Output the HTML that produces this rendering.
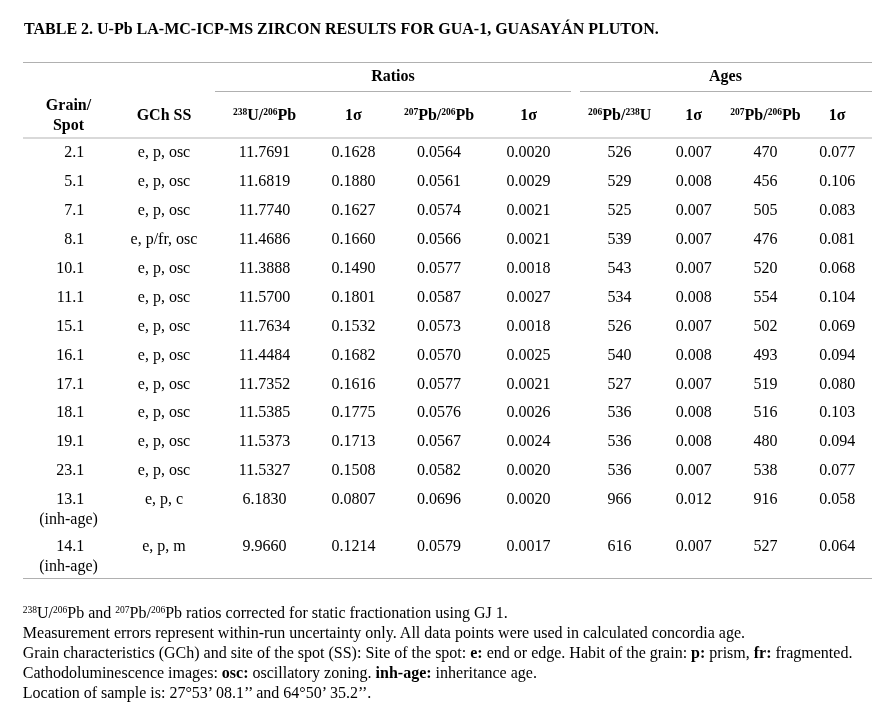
<!DOCTYPE html>
<html><head><meta charset="utf-8"><style>
html,body{margin:0;padding:0;background:#fff;}
body{filter:grayscale(1);}
body{width:895px;height:722px;position:relative;overflow:hidden;font-family:"Liberation Serif",serif;font-size:16px;color:#000;}
div{position:absolute;white-space:nowrap;line-height:20px;}
i{position:absolute;display:block;}
sup{font-size:9.5px;vertical-align:0;position:relative;top:-5px;line-height:0;}
</style></head><body>
<div style="left:24.00px;top:19.00px;width:300px;text-align:left;font-weight:bold;">TABLE 2. U-Pb LA-MC-ICP-MS ZIRCON RESULTS FOR GUA-1, GUASAYÁN PLUTON.</div>
<i style="left:23px;top:62px;width:849px;height:1px;background:#b0b0b0"></i>
<div style="left:243.00px;top:65.90px;width:300px;text-align:center;font-weight:bold;">Ratios</div>
<div style="left:575.50px;top:65.90px;width:300px;text-align:center;font-weight:bold;">Ages</div>
<i style="left:215px;top:91px;width:356px;height:1px;background:#b0b0b0"></i>
<i style="left:580px;top:91px;width:292px;height:1px;background:#b0b0b0"></i>
<div style="left:-81.50px;top:94.80px;width:300px;text-align:center;font-weight:bold;">Grain/</div>
<div style="left:-81.50px;top:114.70px;width:300px;text-align:center;font-weight:bold;">Spot</div>
<div style="left:14.00px;top:105.30px;width:300px;text-align:center;font-weight:bold;">GCh SS</div>
<div style="left:114.50px;top:105.30px;width:300px;text-align:center;font-weight:bold;"><sup>238</sup>U/<sup>206</sup>Pb</div>
<div style="left:203.40px;top:105.30px;width:300px;text-align:center;font-weight:bold;">1σ</div>
<div style="left:289.10px;top:105.30px;width:300px;text-align:center;font-weight:bold;"><sup>207</sup>Pb/<sup>206</sup>Pb</div>
<div style="left:378.60px;top:105.30px;width:300px;text-align:center;font-weight:bold;">1σ</div>
<div style="left:469.60px;top:105.30px;width:300px;text-align:center;font-weight:bold;"><sup>206</sup>Pb/<sup>238</sup>U</div>
<div style="left:543.70px;top:105.30px;width:300px;text-align:center;font-weight:bold;">1σ</div>
<div style="left:615.50px;top:105.30px;width:300px;text-align:center;font-weight:bold;"><sup>207</sup>Pb/<sup>206</sup>Pb</div>
<div style="left:687.20px;top:105.30px;width:300px;text-align:center;font-weight:bold;">1σ</div>
<i style="left:23px;top:137px;width:849px;height:2px;background:#d9d9d9"></i>
<div style="left:-215.80px;top:142.20px;width:300px;text-align:right;font-weight:normal;">2.1</div>
<div style="left:14.00px;top:142.20px;width:300px;text-align:center;font-weight:normal;">e, p, osc</div>
<div style="left:114.50px;top:142.20px;width:300px;text-align:center;font-weight:normal;">11.7691</div>
<div style="left:203.40px;top:142.20px;width:300px;text-align:center;font-weight:normal;">0.1628</div>
<div style="left:289.10px;top:142.20px;width:300px;text-align:center;font-weight:normal;">0.0564</div>
<div style="left:378.60px;top:142.20px;width:300px;text-align:center;font-weight:normal;">0.0020</div>
<div style="left:469.60px;top:142.20px;width:300px;text-align:center;font-weight:normal;">526</div>
<div style="left:543.70px;top:142.20px;width:300px;text-align:center;font-weight:normal;">0.007</div>
<div style="left:615.50px;top:142.20px;width:300px;text-align:center;font-weight:normal;">470</div>
<div style="left:687.20px;top:142.20px;width:300px;text-align:center;font-weight:normal;">0.077</div>
<div style="left:-215.80px;top:171.16px;width:300px;text-align:right;font-weight:normal;">5.1</div>
<div style="left:14.00px;top:171.16px;width:300px;text-align:center;font-weight:normal;">e, p, osc</div>
<div style="left:114.50px;top:171.16px;width:300px;text-align:center;font-weight:normal;">11.6819</div>
<div style="left:203.40px;top:171.16px;width:300px;text-align:center;font-weight:normal;">0.1880</div>
<div style="left:289.10px;top:171.16px;width:300px;text-align:center;font-weight:normal;">0.0561</div>
<div style="left:378.60px;top:171.16px;width:300px;text-align:center;font-weight:normal;">0.0029</div>
<div style="left:469.60px;top:171.16px;width:300px;text-align:center;font-weight:normal;">529</div>
<div style="left:543.70px;top:171.16px;width:300px;text-align:center;font-weight:normal;">0.008</div>
<div style="left:615.50px;top:171.16px;width:300px;text-align:center;font-weight:normal;">456</div>
<div style="left:687.20px;top:171.16px;width:300px;text-align:center;font-weight:normal;">0.106</div>
<div style="left:-215.80px;top:200.12px;width:300px;text-align:right;font-weight:normal;">7.1</div>
<div style="left:14.00px;top:200.12px;width:300px;text-align:center;font-weight:normal;">e, p, osc</div>
<div style="left:114.50px;top:200.12px;width:300px;text-align:center;font-weight:normal;">11.7740</div>
<div style="left:203.40px;top:200.12px;width:300px;text-align:center;font-weight:normal;">0.1627</div>
<div style="left:289.10px;top:200.12px;width:300px;text-align:center;font-weight:normal;">0.0574</div>
<div style="left:378.60px;top:200.12px;width:300px;text-align:center;font-weight:normal;">0.0021</div>
<div style="left:469.60px;top:200.12px;width:300px;text-align:center;font-weight:normal;">525</div>
<div style="left:543.70px;top:200.12px;width:300px;text-align:center;font-weight:normal;">0.007</div>
<div style="left:615.50px;top:200.12px;width:300px;text-align:center;font-weight:normal;">505</div>
<div style="left:687.20px;top:200.12px;width:300px;text-align:center;font-weight:normal;">0.083</div>
<div style="left:-215.80px;top:229.08px;width:300px;text-align:right;font-weight:normal;">8.1</div>
<div style="left:14.00px;top:229.08px;width:300px;text-align:center;font-weight:normal;">e, p/fr, osc</div>
<div style="left:114.50px;top:229.08px;width:300px;text-align:center;font-weight:normal;">11.4686</div>
<div style="left:203.40px;top:229.08px;width:300px;text-align:center;font-weight:normal;">0.1660</div>
<div style="left:289.10px;top:229.08px;width:300px;text-align:center;font-weight:normal;">0.0566</div>
<div style="left:378.60px;top:229.08px;width:300px;text-align:center;font-weight:normal;">0.0021</div>
<div style="left:469.60px;top:229.08px;width:300px;text-align:center;font-weight:normal;">539</div>
<div style="left:543.70px;top:229.08px;width:300px;text-align:center;font-weight:normal;">0.007</div>
<div style="left:615.50px;top:229.08px;width:300px;text-align:center;font-weight:normal;">476</div>
<div style="left:687.20px;top:229.08px;width:300px;text-align:center;font-weight:normal;">0.081</div>
<div style="left:-215.80px;top:258.04px;width:300px;text-align:right;font-weight:normal;">10.1</div>
<div style="left:14.00px;top:258.04px;width:300px;text-align:center;font-weight:normal;">e, p, osc</div>
<div style="left:114.50px;top:258.04px;width:300px;text-align:center;font-weight:normal;">11.3888</div>
<div style="left:203.40px;top:258.04px;width:300px;text-align:center;font-weight:normal;">0.1490</div>
<div style="left:289.10px;top:258.04px;width:300px;text-align:center;font-weight:normal;">0.0577</div>
<div style="left:378.60px;top:258.04px;width:300px;text-align:center;font-weight:normal;">0.0018</div>
<div style="left:469.60px;top:258.04px;width:300px;text-align:center;font-weight:normal;">543</div>
<div style="left:543.70px;top:258.04px;width:300px;text-align:center;font-weight:normal;">0.007</div>
<div style="left:615.50px;top:258.04px;width:300px;text-align:center;font-weight:normal;">520</div>
<div style="left:687.20px;top:258.04px;width:300px;text-align:center;font-weight:normal;">0.068</div>
<div style="left:-215.80px;top:287.00px;width:300px;text-align:right;font-weight:normal;">11.1</div>
<div style="left:14.00px;top:287.00px;width:300px;text-align:center;font-weight:normal;">e, p, osc</div>
<div style="left:114.50px;top:287.00px;width:300px;text-align:center;font-weight:normal;">11.5700</div>
<div style="left:203.40px;top:287.00px;width:300px;text-align:center;font-weight:normal;">0.1801</div>
<div style="left:289.10px;top:287.00px;width:300px;text-align:center;font-weight:normal;">0.0587</div>
<div style="left:378.60px;top:287.00px;width:300px;text-align:center;font-weight:normal;">0.0027</div>
<div style="left:469.60px;top:287.00px;width:300px;text-align:center;font-weight:normal;">534</div>
<div style="left:543.70px;top:287.00px;width:300px;text-align:center;font-weight:normal;">0.008</div>
<div style="left:615.50px;top:287.00px;width:300px;text-align:center;font-weight:normal;">554</div>
<div style="left:687.20px;top:287.00px;width:300px;text-align:center;font-weight:normal;">0.104</div>
<div style="left:-215.80px;top:315.96px;width:300px;text-align:right;font-weight:normal;">15.1</div>
<div style="left:14.00px;top:315.96px;width:300px;text-align:center;font-weight:normal;">e, p, osc</div>
<div style="left:114.50px;top:315.96px;width:300px;text-align:center;font-weight:normal;">11.7634</div>
<div style="left:203.40px;top:315.96px;width:300px;text-align:center;font-weight:normal;">0.1532</div>
<div style="left:289.10px;top:315.96px;width:300px;text-align:center;font-weight:normal;">0.0573</div>
<div style="left:378.60px;top:315.96px;width:300px;text-align:center;font-weight:normal;">0.0018</div>
<div style="left:469.60px;top:315.96px;width:300px;text-align:center;font-weight:normal;">526</div>
<div style="left:543.70px;top:315.96px;width:300px;text-align:center;font-weight:normal;">0.007</div>
<div style="left:615.50px;top:315.96px;width:300px;text-align:center;font-weight:normal;">502</div>
<div style="left:687.20px;top:315.96px;width:300px;text-align:center;font-weight:normal;">0.069</div>
<div style="left:-215.80px;top:344.92px;width:300px;text-align:right;font-weight:normal;">16.1</div>
<div style="left:14.00px;top:344.92px;width:300px;text-align:center;font-weight:normal;">e, p, osc</div>
<div style="left:114.50px;top:344.92px;width:300px;text-align:center;font-weight:normal;">11.4484</div>
<div style="left:203.40px;top:344.92px;width:300px;text-align:center;font-weight:normal;">0.1682</div>
<div style="left:289.10px;top:344.92px;width:300px;text-align:center;font-weight:normal;">0.0570</div>
<div style="left:378.60px;top:344.92px;width:300px;text-align:center;font-weight:normal;">0.0025</div>
<div style="left:469.60px;top:344.92px;width:300px;text-align:center;font-weight:normal;">540</div>
<div style="left:543.70px;top:344.92px;width:300px;text-align:center;font-weight:normal;">0.008</div>
<div style="left:615.50px;top:344.92px;width:300px;text-align:center;font-weight:normal;">493</div>
<div style="left:687.20px;top:344.92px;width:300px;text-align:center;font-weight:normal;">0.094</div>
<div style="left:-215.80px;top:373.88px;width:300px;text-align:right;font-weight:normal;">17.1</div>
<div style="left:14.00px;top:373.88px;width:300px;text-align:center;font-weight:normal;">e, p, osc</div>
<div style="left:114.50px;top:373.88px;width:300px;text-align:center;font-weight:normal;">11.7352</div>
<div style="left:203.40px;top:373.88px;width:300px;text-align:center;font-weight:normal;">0.1616</div>
<div style="left:289.10px;top:373.88px;width:300px;text-align:center;font-weight:normal;">0.0577</div>
<div style="left:378.60px;top:373.88px;width:300px;text-align:center;font-weight:normal;">0.0021</div>
<div style="left:469.60px;top:373.88px;width:300px;text-align:center;font-weight:normal;">527</div>
<div style="left:543.70px;top:373.88px;width:300px;text-align:center;font-weight:normal;">0.007</div>
<div style="left:615.50px;top:373.88px;width:300px;text-align:center;font-weight:normal;">519</div>
<div style="left:687.20px;top:373.88px;width:300px;text-align:center;font-weight:normal;">0.080</div>
<div style="left:-215.80px;top:401.84px;width:300px;text-align:right;font-weight:normal;">18.1</div>
<div style="left:14.00px;top:401.84px;width:300px;text-align:center;font-weight:normal;">e, p, osc</div>
<div style="left:114.50px;top:401.84px;width:300px;text-align:center;font-weight:normal;">11.5385</div>
<div style="left:203.40px;top:401.84px;width:300px;text-align:center;font-weight:normal;">0.1775</div>
<div style="left:289.10px;top:401.84px;width:300px;text-align:center;font-weight:normal;">0.0576</div>
<div style="left:378.60px;top:401.84px;width:300px;text-align:center;font-weight:normal;">0.0026</div>
<div style="left:469.60px;top:401.84px;width:300px;text-align:center;font-weight:normal;">536</div>
<div style="left:543.70px;top:401.84px;width:300px;text-align:center;font-weight:normal;">0.008</div>
<div style="left:615.50px;top:401.84px;width:300px;text-align:center;font-weight:normal;">516</div>
<div style="left:687.20px;top:401.84px;width:300px;text-align:center;font-weight:normal;">0.103</div>
<div style="left:-215.80px;top:430.80px;width:300px;text-align:right;font-weight:normal;">19.1</div>
<div style="left:14.00px;top:430.80px;width:300px;text-align:center;font-weight:normal;">e, p, osc</div>
<div style="left:114.50px;top:430.80px;width:300px;text-align:center;font-weight:normal;">11.5373</div>
<div style="left:203.40px;top:430.80px;width:300px;text-align:center;font-weight:normal;">0.1713</div>
<div style="left:289.10px;top:430.80px;width:300px;text-align:center;font-weight:normal;">0.0567</div>
<div style="left:378.60px;top:430.80px;width:300px;text-align:center;font-weight:normal;">0.0024</div>
<div style="left:469.60px;top:430.80px;width:300px;text-align:center;font-weight:normal;">536</div>
<div style="left:543.70px;top:430.80px;width:300px;text-align:center;font-weight:normal;">0.008</div>
<div style="left:615.50px;top:430.80px;width:300px;text-align:center;font-weight:normal;">480</div>
<div style="left:687.20px;top:430.80px;width:300px;text-align:center;font-weight:normal;">0.094</div>
<div style="left:-215.80px;top:459.76px;width:300px;text-align:right;font-weight:normal;">23.1</div>
<div style="left:14.00px;top:459.76px;width:300px;text-align:center;font-weight:normal;">e, p, osc</div>
<div style="left:114.50px;top:459.76px;width:300px;text-align:center;font-weight:normal;">11.5327</div>
<div style="left:203.40px;top:459.76px;width:300px;text-align:center;font-weight:normal;">0.1508</div>
<div style="left:289.10px;top:459.76px;width:300px;text-align:center;font-weight:normal;">0.0582</div>
<div style="left:378.60px;top:459.76px;width:300px;text-align:center;font-weight:normal;">0.0020</div>
<div style="left:469.60px;top:459.76px;width:300px;text-align:center;font-weight:normal;">536</div>
<div style="left:543.70px;top:459.76px;width:300px;text-align:center;font-weight:normal;">0.007</div>
<div style="left:615.50px;top:459.76px;width:300px;text-align:center;font-weight:normal;">538</div>
<div style="left:687.20px;top:459.76px;width:300px;text-align:center;font-weight:normal;">0.077</div>
<div style="left:-215.80px;top:489.48px;width:300px;text-align:right;font-weight:normal;">13.1</div>
<div style="left:14.00px;top:489.48px;width:300px;text-align:center;font-weight:normal;">e, p, c</div>
<div style="left:114.50px;top:489.48px;width:300px;text-align:center;font-weight:normal;">6.1830</div>
<div style="left:203.40px;top:489.48px;width:300px;text-align:center;font-weight:normal;">0.0807</div>
<div style="left:289.10px;top:489.48px;width:300px;text-align:center;font-weight:normal;">0.0696</div>
<div style="left:378.60px;top:489.48px;width:300px;text-align:center;font-weight:normal;">0.0020</div>
<div style="left:469.60px;top:489.48px;width:300px;text-align:center;font-weight:normal;">966</div>
<div style="left:543.70px;top:489.48px;width:300px;text-align:center;font-weight:normal;">0.012</div>
<div style="left:615.50px;top:489.48px;width:300px;text-align:center;font-weight:normal;">916</div>
<div style="left:687.20px;top:489.48px;width:300px;text-align:center;font-weight:normal;">0.058</div>
<div style="left:-81.50px;top:508.68px;width:300px;text-align:center;font-weight:normal;">(inh-age)</div>
<div style="left:-215.80px;top:536.38px;width:300px;text-align:right;font-weight:normal;">14.1</div>
<div style="left:14.00px;top:536.38px;width:300px;text-align:center;font-weight:normal;">e, p, m</div>
<div style="left:114.50px;top:536.38px;width:300px;text-align:center;font-weight:normal;">9.9660</div>
<div style="left:203.40px;top:536.38px;width:300px;text-align:center;font-weight:normal;">0.1214</div>
<div style="left:289.10px;top:536.38px;width:300px;text-align:center;font-weight:normal;">0.0579</div>
<div style="left:378.60px;top:536.38px;width:300px;text-align:center;font-weight:normal;">0.0017</div>
<div style="left:469.60px;top:536.38px;width:300px;text-align:center;font-weight:normal;">616</div>
<div style="left:543.70px;top:536.38px;width:300px;text-align:center;font-weight:normal;">0.007</div>
<div style="left:615.50px;top:536.38px;width:300px;text-align:center;font-weight:normal;">527</div>
<div style="left:687.20px;top:536.38px;width:300px;text-align:center;font-weight:normal;">0.064</div>
<div style="left:-81.50px;top:555.58px;width:300px;text-align:center;font-weight:normal;">(inh-age)</div>
<i style="left:23px;top:578px;width:849px;height:1px;background:#b0b0b0"></i>
<div style="left:22.80px;top:602.80px;width:300px;text-align:left;font-weight:normal;width:860px"><sup>238</sup>U/<sup>206</sup>Pb and <sup>207</sup>Pb/<sup>206</sup>Pb ratios corrected for static fractionation using GJ 1.</div>
<div style="left:22.80px;top:623.48px;width:300px;text-align:left;font-weight:normal;width:860px">Measurement errors represent within-run uncertainty only. All data points were used in calculated concordia age.</div>
<div style="left:22.80px;top:643.36px;width:300px;text-align:left;font-weight:normal;width:860px">Grain characteristics (GCh) and site of the spot (SS): Site of the spot: <b>e:</b> end or edge. Habit of the grain: <b>p:</b> prism, <b>fr:</b> fragmented.</div>
<div style="left:22.80px;top:663.24px;width:300px;text-align:left;font-weight:normal;width:860px">Cathodoluminescence images: <b>osc:</b> oscillatory zoning. <b>inh-age:</b> inheritance age.</div>
<div style="left:22.80px;top:683.12px;width:300px;text-align:left;font-weight:normal;width:860px">Location of sample is: 27°53’ 08.1’’ and 64°50’ 35.2’’.</div>
</body></html>
